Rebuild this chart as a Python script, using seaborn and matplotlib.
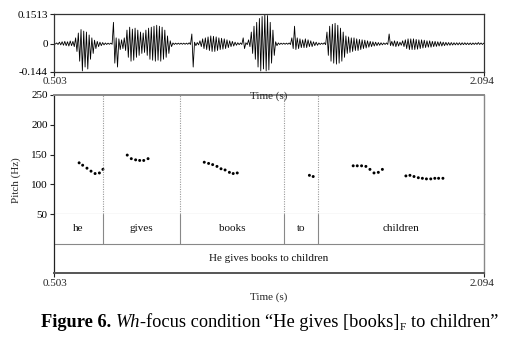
import numpy as np
import pandas as pd
import matplotlib
matplotlib.use("Agg")
import matplotlib.pyplot as plt
import seaborn as sns

sns.set_theme(style="white")
plt.rcParams["font.family"] = ["Liberation Serif", "DejaVu Serif"]
plt.rcParams["axes.unicode_minus"] = False

# ---------------- data ----------------
t_start, t_end = 0.503, 2.094
wave_step = 0.01  # one envelope column per 10 ms
wave_upper = [
    .002, .004, .008, .010, .012, .010, .014, .012, .030, .055,
    .073, .065, .060, .045, .030, .018, .012, .008, .006, .004,
    .003, .003, .110, .030, .025, .020, .030, .070, .085, .075,
    .080, .070, .060, .055, .070, .080, .085, .090, .095, .090,
    .085, .070, .040, .015, .004, .003, .003, .003, .003, .003,
    .005, .050, .008, .006, .015, .025, .030, .035, .040, .038,
    .035, .030, .028, .025, .020, .015, .012, .008, .005, .004,
    .030, .005, .020, .060, .090, .110, .130, .140, .151, .145,
    .110, .070, .010, .004, .003, .003, .003, .004, .030, .090,
    .030, .025, .020, .025, .020, .015, .010, .008, .004, .003,
    .005, .060, .090, .100, .105, .095, .080, .060, .040, .035,
    .030, .030, .025, .022, .020, .018, .015, .012, .010, .008,
    .006, .005, .004, .004, .050, .012, .015, .012, .008, .015,
    .020, .025, .025, .025, .022, .020, .020, .018, .015, .015,
    .012, .012, .010, .010, .008, .007, .006, .006, .005, .005,
    .005, .005, .005, .004, .004, .004, .004, .006, .004, .003,
]
wave_lower = [
    .002, .004, .006, .008, .010, .012, .010, .015, .040, .090,
    .140, .120, .130, .080, .050, .025, .015, .010, .006, .004,
    .003, .003, .100, .120, .030, .025, .035, .070, .090, .085,
    .070, .060, .050, .045, .060, .080, .085, .090, .085, .090,
    .080, .070, .050, .015, .004, .003, .003, .003, .003, .003,
    .004, .120, .010, .006, .015, .025, .030, .035, .040, .040,
    .035, .030, .028, .025, .020, .015, .012, .008, .005, .004,
    .025, .005, .015, .050, .080, .120, .140, .130, .140, .135,
    .100, .060, .010, .004, .003, .003, .003, .004, .025, .030,
    .025, .020, .020, .020, .015, .015, .010, .008, .004, .003,
    .005, .060, .090, .100, .105, .100, .090, .070, .050, .045,
    .040, .035, .035, .030, .025, .022, .018, .015, .012, .010,
    .008, .006, .004, .004, .010, .012, .015, .012, .008, .015,
    .025, .030, .030, .030, .028, .025, .022, .020, .018, .018,
    .015, .014, .012, .012, .010, .008, .008, .007, .006, .006,
    .006, .005, .005, .005, .005, .004, .004, .004, .004, .003,
]
wave_ticks = [-0.144, 0, 0.1513]
wave_tick_labels = ["-0.144", "0", "0.1513"]

pitch_time = [0.596, 0.609, 0.625, 0.640, 0.655, 0.671, 0.684,
              0.774, 0.789, 0.805, 0.820, 0.835, 0.851,
              1.059, 1.075, 1.090, 1.106, 1.121, 1.136, 1.152, 1.166, 1.181,
              1.448, 1.462,
              1.610, 1.625, 1.641, 1.657, 1.672, 1.687, 1.703, 1.718,
              1.805, 1.820, 1.835, 1.851, 1.866, 1.881, 1.897, 1.912, 1.926, 1.942]
pitch_hz = [136, 132, 127, 122, 118, 119, 125,
            149, 143, 141, 140, 140, 143,
            137, 135, 133, 130, 126, 124, 120, 118, 119,
            115, 113,
            131, 131, 131, 130, 125, 119, 120, 125,
            114, 115, 113, 111, 110, 109, 109, 110, 110, 110]
pitch_ticks = [50, 100, 150, 200, 250]

word_labels = ["he", "gives", "books", "to", "children"]
word_bounds = [0.503, 0.684, 0.969, 1.355, 1.481, 2.094]
sentence_label = "He gives books to children"

# ---------------- layout helpers ----------------
W, H = 516, 342
fig = plt.figure(figsize=(W / 100, H / 100), dpi=100)
fig.patch.set_facecolor("white")


def fx(x):
    return x / W


def fy(y):
    return 1 - y / H


L, R = 54, 484
FS = 8

ax_w = fig.add_axes([fx(L), fy(71.7), fx(R) - fx(L), fy(14.3) - fy(71.7)])
ax_p = fig.add_axes([fx(L), fy(214), fx(R) - fx(L), fy(95) - fy(214)])
ax_t = fig.add_axes([fx(L), fy(273), fx(R) - fx(L), fy(214) - fy(273)])

# ---------------- waveform ----------------
n = len(wave_upper)
col_t = t_start + wave_step * np.arange(n)
wx = np.column_stack([col_t, col_t + wave_step / 2]).ravel()
wy = np.column_stack([np.array(wave_upper), -np.array(wave_lower)]).ravel()
wave_df = pd.DataFrame({"t": wx, "amp": wy})
sns.lineplot(data=wave_df, x="t", y="amp", ax=ax_w, color="black",
             lw=0.6, estimator=None, sort=False)
ax_w.set_xlim(t_start, t_end)
ax_w.set_ylim(wave_ticks[0], wave_ticks[-1])
ax_w.set_yticks(wave_ticks)
ax_w.set_yticklabels(wave_tick_labels, fontsize=FS)
ax_w.set_xticks([t_start, t_end])
ax_w.set_xticklabels([])
ax_w.set_xlabel("")
ax_w.set_ylabel("")
for s in ax_w.spines.values():
    s.set_color("#333333")
    s.set_linewidth(0.9)

# ---------------- pitch ----------------
pitch_df = pd.DataFrame({"t": pitch_time, "f0": pitch_hz})
sns.scatterplot(data=pitch_df, x="t", y="f0", ax=ax_p, color="black",
                s=4.5, edgecolor="none", linewidth=0)
for b in word_bounds[1:-1]:
    ax_p.axvline(b, color="#999999", lw=0.8, ls=(0, (1, 1.2)))
ax_p.set_xlim(t_start, t_end)
ax_p.set_ylim(50, 250)
ax_p.set_yticks(pitch_ticks)
ax_p.set_yticklabels([str(v) for v in pitch_ticks], fontsize=FS)
ax_p.set_xticks([])
ax_p.set_xlabel("")
ax_p.set_ylabel("")
ax_p.spines["left"].set_color("#222222")
ax_p.spines["left"].set_linewidth(0.9)
ax_p.spines["top"].set_color("#888888")
ax_p.spines["top"].set_linewidth(1.4)
ax_p.spines["right"].set_color("#888888")
ax_p.spines["right"].set_linewidth(1.0)
ax_p.spines["bottom"].set_color("#888888")
ax_p.spines["bottom"].set_linewidth(0.8)

# ---------------- text grid ----------------
ax_t.set_xlim(t_start, t_end)
ax_t.set_ylim(0, 2)
ax_t.axhline(1, color="#888888", lw=0.8)
for b in word_bounds[1:-1]:
    ax_t.plot([b, b], [1, 2], color="#888888", lw=0.8)
for i, w in enumerate(word_labels):
    c = (word_bounds[i] + word_bounds[i + 1]) / 2
    ax_t.text(c, 1.5, w, ha="center", va="center", fontsize=FS, color="#111111")
ax_t.text((t_start + t_end) / 2, 0.5, sentence_label, ha="center", va="center",
          fontsize=FS, color="#111111")
ax_t.set_yticks([])
ax_t.set_xticks([t_start, t_end])
ax_t.set_xticklabels([])
ax_t.spines["top"].set_visible(False)
ax_t.spines["left"].set_color("#222222")
ax_t.spines["left"].set_linewidth(0.9)
ax_t.spines["right"].set_color("#888888")
ax_t.spines["right"].set_linewidth(1.0)
ax_t.spines["bottom"].set_color("#555555")
ax_t.spines["bottom"].set_linewidth(1.4)

for ax in (ax_w, ax_p, ax_t):
    ax.set_facecolor("white")
    ax.tick_params(axis="both", direction="out", length=3, width=0.8,
                   color="#222222", pad=1.5, labelcolor="black",
                   left=True, bottom=True)
    ax.grid(False)
ax_p.tick_params(bottom=False)
ax_t.tick_params(left=False)

# ---------------- free text ----------------
fig.text(fx(55), fy(82), f"{t_start:.3f}", ha="center", va="center", fontsize=FS)
fig.text(fx(482), fy(82), f"{t_end:.3f}", ha="center", va="center", fontsize=FS)
fig.text(fx(269), fy(96), "Time (s)", ha="center", va="center", fontsize=FS)
fig.text(fx(55), fy(284), f"{t_start:.3f}", ha="center", va="center", fontsize=FS)
fig.text(fx(482), fy(284), f"{t_end:.3f}", ha="center", va="center", fontsize=FS)
fig.text(fx(269), fy(297), "Time (s)", ha="center", va="center", fontsize=FS)
fig.text(fx(16), fy(180), "Pitch (Hz)", ha="center", va="center",
         rotation=90, fontsize=FS)

# ---------------- caption (mixed styles) ----------------
fig.canvas.draw()
rend = fig.canvas.get_renderer()


def measure(s, **kw):
    t = fig.text(0, 0, s, **kw)
    w = t.get_window_extent(renderer=rend).width
    t.remove()
    return w


cap_fs = 12.0
parts = [
    ("Figure 6.", dict(weight="bold"), 0.0, 1.0),
    (" ", {}, 0.0, 1.0),
    ("Wh", dict(style="italic"), 0.0, 1.0),
    ("-focus condition \u201cHe gives [books]", {}, 0.0, 1.0),
    ("F", {}, -2.5, 0.62),
    (" to children\u201d", {}, 0.0, 1.0),
]


def part_width(p, fs):
    s, kw, _, scale = p
    if s.strip() == "":
        return measure("x x", fontsize=fs) - measure("xx", fontsize=fs)
    w = measure(s, fontsize=fs * scale, **kw)
    if s.startswith(" "):
        w_ns = measure(s.lstrip(" "), fontsize=fs * scale, **kw)
        w = w_ns + (measure("x x", fontsize=fs * scale) - measure("xx", fontsize=fs * scale))
    return w


total = sum(part_width(p, cap_fs) for p in parts)
target = 455.0
cap_fs = cap_fs * target / total
widths = [part_width(p, cap_fs) for p in parts]
total = sum(widths)
x0 = 269.5 - total / 2
base_y = 327.0
for (s, kw, dy, scale), w in zip(parts, widths):
    if s.strip() != "":
        txt = s
        lead = 0.0
        if s.startswith(" "):
            txt = s.lstrip(" ")
            lead = measure("x x", fontsize=cap_fs * scale) - measure("xx", fontsize=cap_fs * scale)
        fig.text(fx(x0 + lead), fy(base_y - dy), txt, ha="left", va="baseline",
                 fontsize=cap_fs * scale, color="black", **kw)
    x0 += w

fig.savefig("out.png", dpi=100, facecolor="white")
